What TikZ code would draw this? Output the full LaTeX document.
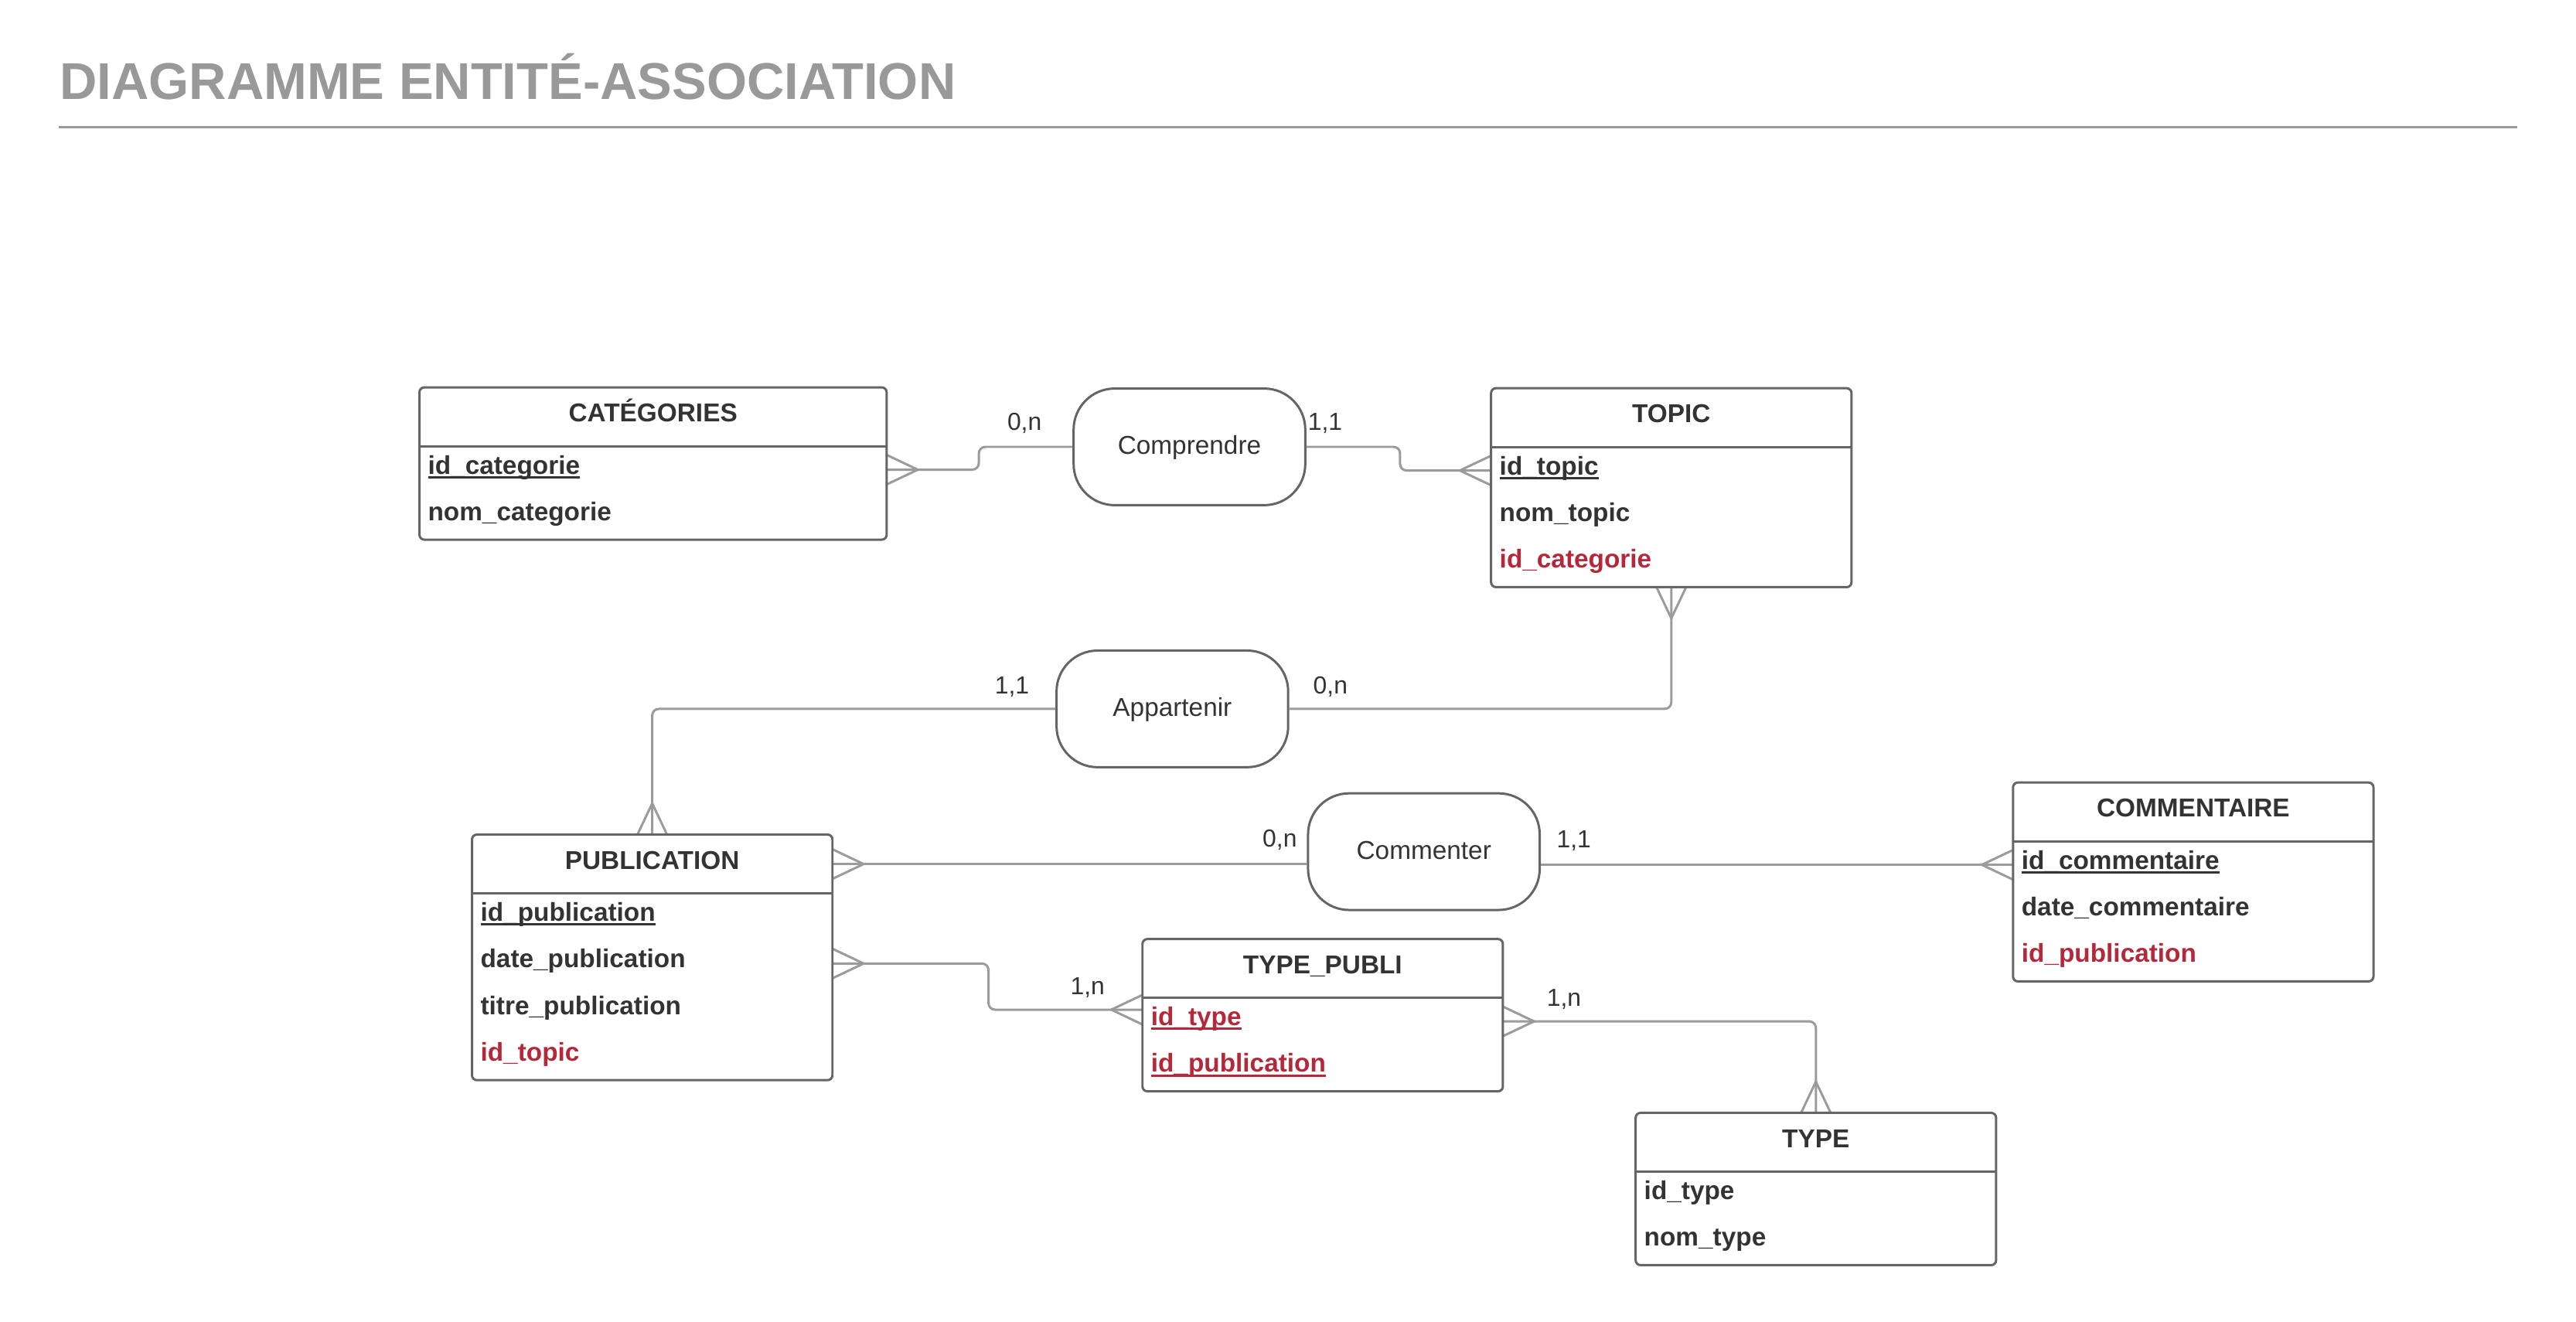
\documentclass[tikz,border=0pt]{standalone}
\usepackage{fontspec}
\setmainfont{Liberation Sans}
\usetikzlibrary{positioning,calc}

\definecolor{ink}{HTML}{333333}
\definecolor{keyred}{HTML}{B5283A}
\definecolor{edge}{HTML}{656565}
\definecolor{wire}{HTML}{9B9B9B}
\definecolor{titlegray}{HTML}{999999}

% underlined primary key
\newcommand{\keyfield}[1]{\setbox0\hbox{#1}\rlap{\rule[-2.6pt]{\wd0}{1.4pt}}\box0}
% crow's foot: point on the box edge, direction away from the box
\newcommand{\crowfoot}[2]{\draw[link, shift={(#1)}, rotate=#2] (0,9) -- (19,0) -- (0,-9);}

\tikzset{
  enttitle/.style={minimum width=219pt, minimum height=35.5pt, inner sep=0pt, align=center,
    text height=11.1pt, text depth=5pt, font=\bfseries\fontsize{15.7pt}{18pt}\selectfont, text=ink},
  entrow/.style={minimum height=28pt, inner xsep=5pt, inner ysep=0pt, text width=209pt, align=left,
    text height=11.2pt, text depth=6pt, font=\bfseries\fontsize{15.7pt}{18pt}\selectfont, text=ink},
  wide/.style={minimum width=284pt, text width=274pt},
  fk/.style={text=keyred},
  entbox/.style={draw=edge, line width=1.4pt, rounded corners=3pt},
  entline/.style={draw=edge, line width=1.4pt},
  assoc/.style={draw=edge, line width=1.4pt, rounded corners=25pt, minimum width=141pt, minimum height=71pt,
    inner sep=0pt, text height=9pt, text depth=0pt, font=\fontsize{15.7pt}{18pt}\selectfont, text=ink},
  link/.style={draw=wire, line width=1.4pt},
  card/.style={anchor=base, inner sep=0pt, font=\fontsize{15pt}{18pt}\selectfont, text=ink},
}

\begin{document}
\begin{tikzpicture}[x=1pt, y=-1pt]

    \useasboundingbox (0,0) rectangle (1568,804.7);

    % title
    \node [anchor=base west, inner sep=0pt, text=titlegray, font=\bfseries\fontsize{31.5pt}{36pt}\selectfont] (title) at (36.2,60.4) {DIAGRAMME ENTITÉ-ASSOCIATION};
    \draw [titlegray, line width=1.7pt] (35.8,77.5) -- (1532,77.5);

    % entities
    \node [enttitle, wide] (cat) at (397.5,253.75) {CATÉGORIES};
    \node [entrow, wide, below=0pt of cat] (cat1) {\keyfield{id\_categorie}};
    \node [entrow, wide, below=0pt of cat1] (cat2) {nom\_categorie};

    \node [enttitle] (topic) at (1017.3,254.25) {TOPIC};
    \node [entrow, below=0pt of topic] (topic1) {\keyfield{id\_topic}};
    \node [entrow, below=0pt of topic1] (topic2) {nom\_topic};
    \node [entrow, fk, below=0pt of topic2] (topic3) {id\_categorie};

    \node [enttitle] (pub) at (397,525.95) {PUBLICATION};
    \node [entrow, below=0pt of pub] (pub1) {\keyfield{id\_publication}};
    \node [entrow, below=0pt of pub1] (pub2) {date\_publication};
    \node [entrow, below=0pt of pub2] (pub3) {titre\_publication};
    \node [entrow, fk, below=0pt of pub3] (pub4) {id\_topic};

    \node [enttitle] (com) at (1335,494.25) {COMMENTAIRE};
    \node [entrow, below=0pt of com] (com1) {\keyfield{id\_commentaire}};
    \node [entrow, below=0pt of com1] (com2) {date\_commentaire};
    \node [entrow, fk, below=0pt of com2] (com3) {id\_publication};

    \node [enttitle] (tpub) at (805.1,589.55) {TYPE\_PUBLI};
    \node [entrow, fk, below=0pt of tpub] (tpub1) {\keyfield{id\_type}};
    \node [entrow, fk, below=0pt of tpub1] (tpub2) {\keyfield{id\_publication}};

    \node [enttitle] (type) at (1105.3,695.35) {TYPE};
    \node [entrow, below=0pt of type] (type1) {id\_type};
    \node [entrow, below=0pt of type1] (type2) {nom\_type};

    % associations
    \node [assoc] (comprendre) at (724,272) {Comprendre};
    \node [assoc] (appartenir) at (713.6,431.5) {Appartenir};
    \node [assoc] (commenter) at (866.7,518.4) {Commenter};

    % links
    \draw [link, rounded corners=4pt] (comprendre.west) -- ++(-57,0) |- (cat1.east);
    \draw [link, rounded corners=4pt] (comprendre.east) -- ++(57,0) |- (topic1.west);
    \draw [link, rounded corners=4pt] (appartenir.west) -| (pub.north);
    \draw [link, rounded corners=4pt] (appartenir.east) -| (topic3.south);
    \draw [link] (pub.east) -- (commenter.west |- pub.east);
    \draw [link] (commenter.east |- com1.west) -- (com1.west);
    \coordinate (tpubin) at ($(tpub1.north west)!0.25!(tpub1.south west)$);
    \draw [link, rounded corners=4pt] (pub2.east) -- ++(95,0) |- (tpubin);
    \draw [link, rounded corners=4pt] (tpub1.east) -| (type.north);

    % crow's feet
    \crowfoot{cat1.east}{0}
    \crowfoot{topic1.west}{180}
    \crowfoot{topic3.south}{-90}
    \crowfoot{pub.north}{90}
    \crowfoot{pub.east}{0}
    \crowfoot{com1.west}{180}
    \crowfoot{pub2.east}{0}
    \crowfoot{tpubin}{180}
    \crowfoot{tpub1.east}{0}
    \crowfoot{type.north}{90}

    % entity outlines
    \foreach \h/\l in {cat/cat2, topic/topic3, pub/pub4, com/com3, tpub/tpub2, type/type2} {
        \draw [entbox] (\h.north west) rectangle (\l.south east);
        \draw [entline] (\h.south west) -- (\h.south east);
    }

    % cardinalities
    \node [card] (cardcat) at (623.6,262) {0,n};
    \node [card] (cardtopic) at (806.6,262) {1,1};
    \node [card] (cardpub) at (616,422.5) {1,1};
    \node [card] (cardtopicb) at (809.8,422.5) {0,n};
    \node [card] (cardpubc) at (779,515.3) {0,n};
    \node [card] (cardcom) at (958,516) {1,1};
    \node [card] (cardpubt) at (662,605.5) {1,n};
    \node [card] (cardtype) at (952,612.3) {1,n};

\end{tikzpicture}
\end{document}
